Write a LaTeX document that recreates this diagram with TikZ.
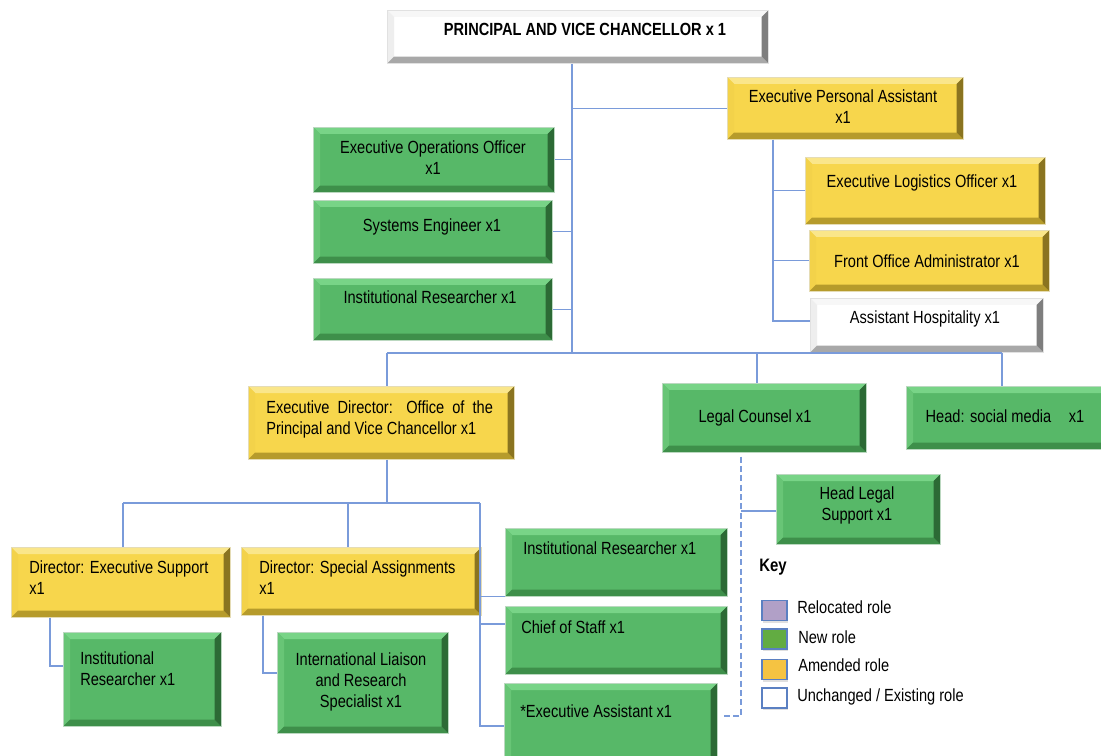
\documentclass[tikz,border=0pt]{standalone}
\usepackage{fontspec}
\setmainfont{Liberation Sans}[FakeStretch=0.83]
\usetikzlibrary{shadows}
\definecolor{ln}{HTML}{7A9BDA}
\definecolor{gM}{HTML}{57B868}
\definecolor{gT}{HTML}{78D487}
\definecolor{gL}{HTML}{68C576}
\definecolor{gB}{HTML}{3E8F4A}
\definecolor{gR}{HTML}{2C6A35}
\definecolor{yM}{HTML}{F7D64C}
\definecolor{yT}{HTML}{FAE68A}
\definecolor{yL}{HTML}{F3D24A}
\definecolor{yB}{HTML}{B69B2B}
\definecolor{yR}{HTML}{8A7420}
\definecolor{wM}{HTML}{FFFFFF}
\definecolor{wT}{HTML}{F7F7F7}
\definecolor{wL}{HTML}{EEEEEE}
\definecolor{wB}{HTML}{A8A8A8}
\definecolor{wR}{HTML}{7E7E7E}
\definecolor{kP}{HTML}{B1A0C7}
\definecolor{kG}{HTML}{62AC42}
\definecolor{kY}{HTML}{F5C342}
\definecolor{kB}{HTML}{5B80C2}
\tikzset{
  bevel/.style={path picture={
    \def\bw{5pt}
    \fill[#1T] (path picture bounding box.north west) -- (path picture bounding box.north east)
       -- ([shift={(-\bw,-\bw)}]path picture bounding box.north east) -- ([shift={(\bw,-\bw)}]path picture bounding box.north west) -- cycle;
    \fill[#1L] (path picture bounding box.north west) -- ([shift={(\bw,-\bw)}]path picture bounding box.north west)
       -- ([shift={(\bw,\bw)}]path picture bounding box.south west) -- (path picture bounding box.south west) -- cycle;
    \fill[#1B] (path picture bounding box.south west) -- (path picture bounding box.south east)
       -- ([shift={(-\bw,\bw)}]path picture bounding box.south east) -- ([shift={(\bw,\bw)}]path picture bounding box.south west) -- cycle;
    \fill[#1R] (path picture bounding box.north east) -- (path picture bounding box.south east)
       -- ([shift={(-\bw,\bw)}]path picture bounding box.south east) -- ([shift={(-\bw,-\bw)}]path picture bounding box.north east) -- cycle;
  }},
  box/.style={fill=#1M, draw=#1B!35!white, line width=0.5pt, bevel=#1, inner sep=0pt},
  conn/.style={draw=ln, line width=0.8pt},
  txt/.style={font=\fontsize{13.2}{15.75}\selectfont, inner sep=0pt, align=center, text=black},
  txtl/.style={txt, align=left, anchor=west},
  keysq/.style={draw=kB, line width=1pt, inner sep=0pt, minimum width=18.75pt, minimum height=15pt,
    drop shadow={opacity=0.25, shadow xshift=1pt, shadow yshift=-1.5pt}},
}
\newcommand\bx[6]{\node[box=#6, minimum width={(#4-#2)*0.75pt}, minimum height={(#5-#3)*0.75pt}, anchor=north west] (#1) at (#2,#3) {};}
\begin{document}
\begin{tikzpicture}[x=0.75pt, y=-0.75pt]
\useasboundingbox (0,0) rectangle (1101,756);
% boxes
\bx{pvc}{387}{10}{768}{63}{w}
\bx{epa}{727}{77}{963}{139}{y}
\bx{eoo}{313}{127}{554}{192}{g}
\bx{se}{313}{200}{552}{263}{g}
\bx{ira}{313}{278}{552}{340}{g}
\bx{elo}{805}{157}{1045}{224}{y}
\bx{foa}{809}{230}{1049}{291}{y}
\bx{ah}{810}{298}{1043}{352}{w}
\bx{ed}{248}{386}{514}{459}{y}
\bx{lc}{662}{383}{866}{452}{g}
\bx{sm}{906}{386}{1112}{449}{g}
\bx{des}{11}{547}{230}{617}{y}
\bx{dsa}{241}{547}{481}{615}{y}
\bx{irb}{505}{528}{727}{596}{g}
\bx{cos}{505}{606}{727}{674}{g}
\bx{ea}{504}{683}{717}{770}{g}
\bx{hls}{776}{474}{940}{544}{g}
\bx{irc}{63}{632}{221}{726}{g}
\bx{il}{277}{632}{448}{733}{g}
% texts
\node[txt, font=\fontsize{13.2}{15.75}\selectfont\bfseries] at (585,29) {PRINCIPAL AND VICE CHANCELLOR x 1};
\node[txt] at (843,106.5) {Executive Personal Assistant\\x1};
\node[txt] at (433,158) {Executive Operations Officer\\x1};
\node[txt] at (432,227) {Systems Engineer x1};
\node[txt] at (430,297) {Institutional Researcher x1};
\node[txt] at (922,183) {Executive Logistics Officer x1};
\node[txt] at (927,261) {Front Office Administrator x1};
\node[txt] at (925,319) {Assistant Hospitality x1};
\node[txtl] at (266,419.5) {\makebox[170pt][s]{Executive Director: Office of the}\\Principal and Vice Chancellor x1};
\node[txt] at (755,418) {Legal Counsel x1};
\node[txt] at (1005,416) {Head: social media\quad x1};
\node[txtl] at (29,577.5) {Director: Executive Support\\x1};
\node[txtl] at (259,577.5) {Director: Special Assignments\\x1};
\node[txtl] at (523,548) {Institutional Researcher x1};
\node[txtl] at (521,627) {Chief of Staff x1};
\node[txtl] at (520,711) {*Executive Assistant x1};
\node[txt] at (857,505) {Head Legal\\Support x1};
\node[txtl] at (80,669) {Institutional\\Researcher x1};
\node[txt] at (361,682) {International Liaison\\and Research\\Specialist x1};
% key
\node[txtl, font=\fontsize{13.5}{15}\selectfont\bfseries] (key) at (759,567) {Key};
\node[keysq, fill=kP] (k1) at (774.5,610.5) {};
\node[keysq, fill=kG] (k2) at (774.5,639) {};
\node[keysq, fill=kY] (k3) at (774.5,669.5) {};
\node[keysq, fill=white] (k4) at (774.5,698) {};
\node[txtl] at (797,607) {Relocated role};
\node[txtl] at (798,637) {New role};
\node[txtl] at (798,665) {Amended role};
\node[txtl] at (797,697) {Unchanged / Existing role};
% connectors
\coordinate (tr) at (572,353);
\draw[conn] (pvc.south -| tr) -- (tr);
\draw[conn] (tr |- epa.west) -- (epa.west);
\draw[conn] (tr |- eoo.east) -- (eoo.east);
\draw[conn] (tr |- se.east) -- (se.east);
\draw[conn] (tr |- ira.east) -- (ira.east);
\coordinate (pa) at (773,321);
\draw[conn] (epa.south -| pa) -- (pa) -- (pa -| ah.west);
\draw[conn] (pa |- elo.west) -- (elo.west);
\draw[conn] (pa |- foa.west) -- (foa.west);
\coordinate (b1) at (387,353);
\coordinate (b2) at (757,353);
\coordinate (b3) at (1002,353);
\draw[conn] (b1) -- (b3);
\draw[conn] (b1) -- (b1 |- ed.north);
\draw[conn] (b2) -- (b2 |- lc.north);
\draw[conn] (b3) -- (b3 |- sm.north);
\coordinate (e0) at (387,503);
\coordinate (e1) at (123,503);
\coordinate (e2) at (348,503);
\coordinate (e3) at (480,503);
\coordinate (e4) at (480,726);
\coordinate (e5) at (480,624);
\draw[conn] (ed.south -| e0) -- (e0);
\draw[conn] (e1) -- (e3);
\draw[conn] (e1) -- (e1 |- des.north);
\draw[conn] (e2) -- (e2 |- dsa.north);
\draw[conn] (e3) -- (e4) -- (e4 -| ea.west);
\draw[conn] (e3 |- irb.south west) -- (irb.south west);
\draw[conn] (e5) -- (e5 -| cos.west);
\coordinate (d1) at (741,716);
\coordinate (d2) at (741,511);
\draw[conn, dash pattern=on 4.5pt off 2.5pt] ([yshift=-3pt]lc.south -| d1) -- (d1) -- ([xshift=3pt]d1 -| ea.east);
\draw[conn] (d2) -- (d2 -| hls.west);
\coordinate (f1) at (50,666);
\coordinate (f2) at (263,673);
\draw[conn] (des.south -| f1) -- (f1) -- (f1 -| irc.west);
\draw[conn] (dsa.south -| f2) -- (f2) -- (f2 -| il.west);
\end{tikzpicture}
\end{document}
